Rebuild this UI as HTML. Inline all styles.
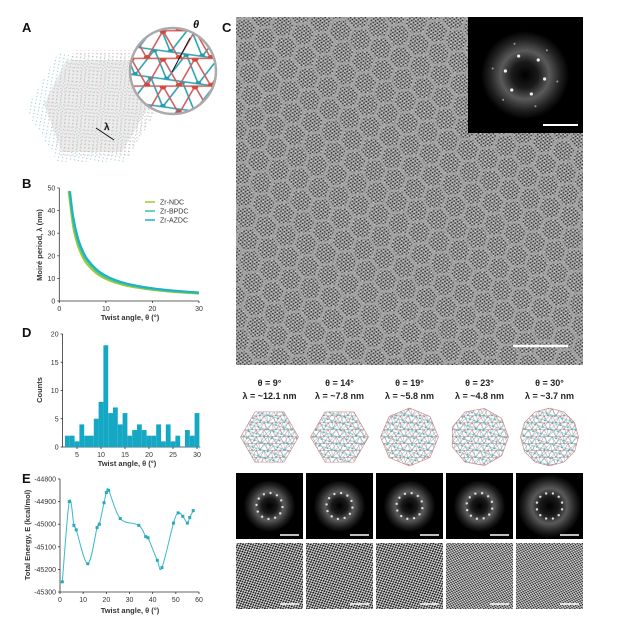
<!DOCTYPE html>
<html><head><meta charset="utf-8">
<style>
html,body{margin:0;padding:0;background:#fff;}
svg{display:block;font-family:"Liberation Sans",Arial,sans-serif;}
.t{font-size:7px;fill:#333;}
.ax{stroke:#333;stroke-width:0.8;fill:none;}
.lbl{font-size:13px;font-weight:bold;fill:#111;}
.ttl{font-size:7.5px;font-weight:bold;fill:#333;}
.cap{font-size:9px;font-weight:bold;fill:#222;text-anchor:middle;}
</style></head>
<body>
<svg id="fig" width="621" height="626" viewBox="0 0 621 626" xmlns="http://www.w3.org/2000/svg">
<defs>
  <pattern id="dots" width="4.2" height="3.6" patternUnits="userSpaceOnUse" patternTransform="rotate(8)">
    <rect width="4.2" height="3.6" fill="#a4a4a4"/>
    <circle cx="1" cy="0.9" r="0.8" fill="#2a2a2a"/>
    <circle cx="3.1" cy="2.7" r="0.8" fill="#2a2a2a"/>
    <circle cx="3.1" cy="0.9" r="0.6" fill="#e4e4e4"/>
  </pattern>
  <pattern id="hexes" width="38" height="22" patternUnits="userSpaceOnUse" patternTransform="rotate(-6)">
    <path d="M0,11 L6,0 M0,11 L6,22 M6,0 L19,0 M6,22 L19,22 M19,0 L25,11 M19,22 L25,11 M25,11 L38,11" stroke="#a8a8a8" stroke-width="2.6" fill="none" opacity="0.85"/>
  </pattern>
  <pattern id="dotsS" width="3.6" height="3.2" patternUnits="userSpaceOnUse" patternTransform="rotate(-25)">
    <rect width="3.6" height="3.2" fill="#e0e0e0"/>
    <ellipse cx="1" cy="0.8" rx="1.1" ry="0.85" fill="#151515"/>
    <ellipse cx="2.8" cy="2.4" rx="1.1" ry="0.85" fill="#202020"/>
  </pattern>
  <pattern id="dotsT" width="3.2" height="2.8" patternUnits="userSpaceOnUse" patternTransform="rotate(15)">
    <rect width="3.2" height="2.8" fill="#dcdcdc"/>
    <circle cx="0.8" cy="0.7" r="0.8" fill="#202020"/>
    <circle cx="2.4" cy="2.1" r="0.8" fill="#202020"/>
  </pattern>
  <pattern id="tri" width="8" height="6.93" patternUnits="userSpaceOnUse">
    <path d="M0,0 L8,0 M0,6.93 L8,6.93 M0,0 L4,6.93 L8,0 M-4,6.93 L0,0 M8,0 L12,6.93" stroke="#d07a7a" stroke-width="0.5" fill="none"/>
    <circle cx="0" cy="0" r="1" fill="#d05050"/><circle cx="4" cy="6.93" r="1" fill="#3aa6b0"/>
  </pattern>
  <pattern id="tri2" width="8" height="6.93" patternUnits="userSpaceOnUse" patternTransform="rotate(17)">
    <path d="M0,0 L8,0 M0,6.93 L8,6.93 M0,0 L4,6.93 L8,0 M-4,6.93 L0,0 M8,0 L12,6.93" stroke="#6cb8c0" stroke-width="0.5" fill="none"/>
    <circle cx="4" cy="0" r="1" fill="#3aa6b0"/>
  </pattern>
  <pattern id="triBig" width="32" height="27.7" patternUnits="userSpaceOnUse" x="3" y="3">
    <path d="M0,0 L32,0 M0,27.7 L32,27.7 M0,0 L16,27.7 L32,0 M-16,27.7 L0,0 M32,0 L48,27.7" stroke="#d06060" stroke-width="1.6" fill="none"/>
    <circle cx="0" cy="0" r="3.5" fill="#d04a3a"/><circle cx="32" cy="0" r="3.5" fill="#d04a3a"/><circle cx="16" cy="27.7" r="3.5" fill="#d04a3a"/>
  </pattern>
  <pattern id="triBig2" width="32" height="27.7" patternUnits="userSpaceOnUse" patternTransform="rotate(8)" x="0" y="0">
    <path d="M0,0 L32,0 M0,27.7 L32,27.7 M0,0 L16,27.7 L32,0 M-16,27.7 L0,0 M32,0 L48,27.7" stroke="#2aa0b0" stroke-width="1.6" fill="none"/>
    <circle cx="0" cy="0" r="3" fill="#2a9aa8"/><circle cx="32" cy="0" r="3" fill="#2a9aa8"/><circle cx="16" cy="27.7" r="3" fill="#2a9aa8"/>
  </pattern>
  <pattern id="pinkdots" width="4" height="3.5" patternUnits="userSpaceOnUse">
    <circle cx="1" cy="1" r="0.6" fill="#e3a0a0"/>
  </pattern>
  <pattern id="bluedots" width="4" height="3.5" patternUnits="userSpaceOnUse" patternTransform="rotate(10)">
    <circle cx="1" cy="1" r="0.6" fill="#8ccbd3"/>
  </pattern>
  <radialGradient id="glow">
    <stop offset="0" stop-color="#000"/>
    <stop offset="0.3" stop-color="#1a1a1a"/>
    <stop offset="0.55" stop-color="#5a5a5a"/>
    <stop offset="0.8" stop-color="#222"/>
    <stop offset="1" stop-color="#000"/>
  </radialGradient>
  <clipPath id="circA"><circle cx="173" cy="71" r="43"/></clipPath>
</defs>

<!-- Panel A -->
<g>
  <text x="22" y="32" class="lbl">A</text>
  <polygon points="26,110 58,53 124,53 158,110 124,162 58,162" fill="url(#bluedots)"/>
  <polygon points="44,104 76,50 142,50 160,104 128,158 60,158" fill="url(#pinkdots)" opacity="0.9"/>
  <polygon points="44,104 66,60 130,60 150,104 122,152 62,152" fill="#c8c8c8" opacity="0.35"/>
  <line x1="96" y1="128" x2="114" y2="140" stroke="#111" stroke-width="1"/>
  <text x="104" y="130" font-size="10" font-weight="bold" fill="#111">λ</text>
  <g clip-path="url(#circA)">
    <rect x="128" y="26" width="90" height="90" fill="#fff"/>
    <rect x="128" y="26" width="90" height="90" fill="url(#triBig2)"/>
    <rect x="128" y="26" width="90" height="90" fill="url(#triBig)"/>
  </g>
  <circle cx="173" cy="71" r="43" fill="none" stroke="#aaa" stroke-width="2.5"/>
  <line x1="172" y1="72" x2="190" y2="38" stroke="#111" stroke-width="1"/>
  <text x="193" y="28" font-size="11" font-weight="bold" font-style="italic" fill="#111">θ</text>
</g>

<!-- Panel C -->
<g>
  <text x="222" y="32" class="lbl">C</text>
  <rect x="236" y="17" width="347" height="348" fill="url(#dots)"/>
  <rect x="236" y="17" width="347" height="348" fill="url(#hexes)"/>
  <line x1="513" y1="346" x2="568" y2="346" stroke="#fff" stroke-width="2.5"/>
  <g>
    <rect x="468" y="17" width="115" height="116" fill="#000"/>
    <circle cx="525" cy="75" r="44" fill="url(#glow)"/>
    <g id="insetSpots"></g>
    <line x1="543" y1="125" x2="578" y2="125" stroke="#fff" stroke-width="2"/>
  </g>
</g>
<g id="rowC"></g>

<g>
  <text x="22" y="188" class="lbl">B</text>
  <g id="chartB"></g>
</g>
<g>
  <text x="22" y="337" class="lbl">D</text>
  <g id="chartD"></g>
</g>
<g>
  <text x="22" y="483" class="lbl">E</text>
  <g id="chartE"></g>
</g>
</svg>
<script>
// ---- Chart B data ----
const bSeriesNames = ["Zr-NDC","Zr-BPDC","Zr-AZDC"];
const bColors = ["#9acd32","#3cc0a0","#20b0c8"];
const bThetaNDC = [2,3,4,5,6,8,10,12,15,20,25,30];
const bLambdaNDC = [48.7,32.5,24.4,19.5,16.2,12.2,9.75,8.13,6.51,4.91,3.94,3.28];
const bThetaBPDC = [2.2,3,4,5,6,8,10,12,15,20,25,30];
const bLambdaBPDC = [48.2,35.3,26.5,21.2,17.7,13.3,10.6,8.85,7.09,5.33,4.28,3.57];
const bThetaAZDC = [2.3,3,4,5,6,8,10,12,15,20,25,30];
const bLambdaAZDC = [48.6,37.2,27.9,22.4,18.6,14.0,11.2,9.33,7.47,5.62,4.51,3.77];
const bXTicks = [0,10,20,30];
const bYTicks = [0,10,20,30,40,50];
// ---- Chart D data ----
const dBinStarts = [2.5,3.5,4.5,5.5,6.5,7.5,8.5,9.5,10.5,11.5,12.5,13.5,14.5,15.5,16.5,17.5,18.5,19.5,20.5,21.5,22.5,23.5,24.5,25.5,26.5,27.5,28.5,29.5];
const dCounts = [2,2,1,4,2,2,5,8,18,6,7,4,6,2,3,4,3,2,2,4,1,4,1,2,0,3,2,6];
const dXTicks = [5,10,15,20,25,30];
const dYTicks = [0,5,10,15,20];
// ---- Chart E data ----
const eTheta = [1,4,6,7,12,16,17,19,20,21,26,34,37,38,42,44,49,51,53,55,56,57.5];
const eEnergy = [-45255,-44900,-45005,-45025,-45175,-45015,-45000,-44905,-44860,-44850,-44975,-45005,-45055,-45060,-45160,-45192,-44995,-44950,-44965,-44995,-44970,-44940];
const eXTicks = [0,10,20,30,40,50,60];
const eYTicks = [-45300,-45200,-45100,-45000,-44900,-44800];
// ---- Row C data ----
const rowThetas = [9,14,19,23,30];
const rowLambdas = ["12.1","7.8","5.8","4.8","3.7"];

const NS="http://www.w3.org/2000/svg";
function mk(tag,attrs,parent){const e=document.createElementNS(NS,tag);for(const k in attrs)e.setAttribute(k,attrs[k]);if(parent)parent.appendChild(e);return e;}
function txt(parent,x,y,s,cls,anchor){const t=mk('text',{x:x,y:y,class:cls,'text-anchor':anchor||'middle'},parent);t.textContent=s;return t;}
function smooth(pts){let d='M'+pts[0][0]+','+pts[0][1];for(let i=0;i<pts.length-1;i++){const p0=pts[Math.max(0,i-1)],p1=pts[i],p2=pts[i+1],p3=pts[Math.min(pts.length-1,i+2)];const c1=[p1[0]+(p2[0]-p0[0])/6,p1[1]+(p2[1]-p0[1])/6],c2=[p2[0]-(p3[0]-p1[0])/6,p2[1]-(p3[1]-p1[1])/6];d+=' C'+c1[0]+','+c1[1]+' '+c2[0]+','+c2[1]+' '+p2[0]+','+p2[1];}return d;}

(function(){
  const g=document.getElementById('chartB');
  const x=v=>59.3+v*(199-59.3)/30, y=v=>301-v*(301-188)/50;
  mk('path',{d:`M${x(0)},${y(50)} L${x(0)},${y(0)} L${x(30)},${y(0)}`,class:'ax'},g);
  bXTicks.forEach(v=>{mk('line',{x1:x(v),x2:x(v),y1:y(0),y2:y(0)+2,class:'ax'},g);txt(g,x(v),y(0)+10,v,'t');});
  bYTicks.forEach(v=>{mk('line',{x1:x(0)-2,x2:x(0),y1:y(v),y2:y(v),class:'ax'},g);txt(g,x(0)-4,y(v)+2.5,v,'t','end');});
  const xs=[bThetaNDC,bThetaBPDC,bThetaAZDC], ys=[bLambdaNDC,bLambdaBPDC,bLambdaAZDC];
  for(let s=0;s<3;s++){
    const p=mk('path',{d:smooth(xs[s].map((t,i)=>[x(t),y(ys[s][i])])),stroke:bColors[s],'stroke-width':2,fill:'none'},g);
    
    
    const ly=202+s*9;
    const le=mk('line',{x1:145,x2:155,y1:ly,y2:ly,stroke:bColors[s],'stroke-width':1.5},g);
    
    
    txt(g,160,ly+2.5,bSeriesNames[s],'t','start');
  }
  txt(g,130,320,'Twist angle, θ (°)','ttl');
  const yl=txt(g,0,0,'Moiré period, λ (nm)','ttl');yl.setAttribute('transform','translate(42,245) rotate(-90)');
})();

(function(){
  const g=document.getElementById('chartD');
  const x=v=>77+(v-5)*(197-77)/25, y=v=>447-v*(447-334)/20;
  mk('path',{d:`M${x(2)},${y(20)} L${x(2)},${y(0)} L${x(30.7)},${y(0)}`,class:'ax'},g);
  dBinStarts.forEach((b,i)=>{const r=mk('rect',{x:x(b),y:y(dCounts[i]),width:x(b+1)-x(b),height:y(0)-y(dCounts[i]),fill:'#14a8c4'},g);
    
    });
  dXTicks.forEach(v=>{mk('line',{x1:x(v),x2:x(v),y1:y(0),y2:y(0)+2,class:'ax'},g);txt(g,x(v),y(0)+10,v,'t');});
  dYTicks.forEach(v=>{mk('line',{x1:x(2)-2,x2:x(2),y1:y(v),y2:y(v),class:'ax'},g);txt(g,x(2)-4,y(v)+2.5,v,'t','end');});
  txt(g,127,466,'Twist angle, θ (°)','ttl');
  const yl=txt(g,0,0,'Counts','ttl');yl.setAttribute('transform','translate(42,390) rotate(-90)');
})();

(function(){
  const g=document.getElementById('chartE');
  const x=v=>60+v*(199-60)/60, y=v=>592-(v+45300)*(592-479)/500;
  mk('path',{d:`M${x(0)},${y(-44800)} L${x(0)},${y(-45300)} L${x(60)},${y(-45300)}`,class:'ax'},g);
  eXTicks.forEach(v=>{mk('line',{x1:x(v),x2:x(v),y1:y(-45300),y2:y(-45300)+2,class:'ax'},g);txt(g,x(v),y(-45300)+10,v,'t');});
  eYTicks.forEach(v=>{mk('line',{x1:x(0)-2,x2:x(0),y1:y(v),y2:y(v),class:'ax'},g);txt(g,x(0)-4,y(v)+2.5,v,'t','end');});
  const pts=eTheta.map((t,i)=>[x(t),y(eEnergy[i])]);
  const p=mk('path',{d:smooth(pts),stroke:'#3bb8cc','stroke-width':1,fill:'none'},g);
  
  
  pts.forEach(q=>{const c=mk('rect',{x:q[0]-1.5,y:q[1]-1.5,width:3,height:3,fill:'#2aa8bc'},g);
    
    });
  txt(g,130,613,'Twist angle, θ (°)','ttl');
  const yl=txt(g,0,0,'Total Energy, E (kcal/mol)','ttl');yl.setAttribute('transform','translate(30,535) rotate(-90)');
})();

(function(){
  const g=document.getElementById('insetSpots');
  for(let k=0;k<6;k++){const a=Math.PI/3*k+0.2;
    [[20,1.6,'#eee'],[33,1,'#999']].forEach(([r,s,c])=>{mk('circle',{cx:525+r*Math.cos(a),cy:75+r*Math.sin(a),r:s,fill:c},g);});}
})();

(function(){
  const g=document.getElementById('rowC');
  const x0=[236,306,376,446,516];
  rowThetas.forEach((th,i)=>{
    const cx=x0[i]+33.5;
    const cap=txt(g,cx,386,'θ = '+th+'°','cap');
    
    
    const cap2=txt(g,cx,399,'λ = ~'+rowLambdas[i]+' nm','cap');
    
    
    const sides=i==0||i==1?6:(i==2?8:(i==3?9:12));
    let pp=[];for(let k=0;k<sides;k++){const a=Math.PI*2*k/sides;pp.push((cx+29*Math.cos(a))+','+(437+29*Math.sin(a)));}
    const cid='clp'+i;const cp=mk('clipPath',{id:cid},g);mk('polygon',{points:pp.join(' ')},cp);
    const lat=mk('g',{'clip-path':`url(#${cid})`},g);
    
    
    mk('rect',{x:cx-30,y:407,width:60,height:60,fill:'url(#tri)'},lat);
    mk('rect',{x:cx-30,y:407,width:60,height:60,fill:'url(#tri2)'},lat);
    mk('polygon',{points:pp.join(' '),fill:'none',stroke:'#d08080','stroke-width':0.6},g);
    const f=mk('g',{},g);
    
    
    mk('rect',{x:x0[i],y:473,width:67,height:66,fill:'#000'},f);
    mk('circle',{cx:cx,cy:506,r:26+(i==4?6:0),fill:'url(#glow)'},f);
    for(let k=0;k<12;k++){const a=Math.PI/6*k+th*Math.PI/360;mk('circle',{cx:cx+13*Math.cos(a),cy:506+13*Math.sin(a),r:1.2,fill:'#ddd'},f);}
    mk('line',{x1:x0[i]+44,x2:x0[i]+63,y1:535,y2:535,stroke:'#fff','stroke-width':1.5},f);
    const h=mk('rect',{x:x0[i],y:543,width:67,height:66,fill:i<3?'url(#dotsS)':'url(#dotsT)'},g);
    
    
    mk('line',{x1:x0[i]+44,x2:x0[i]+63,y1:604,y2:604,stroke:'#fff','stroke-width':1.5},g);
  });
})();
</script>
</body></html>
